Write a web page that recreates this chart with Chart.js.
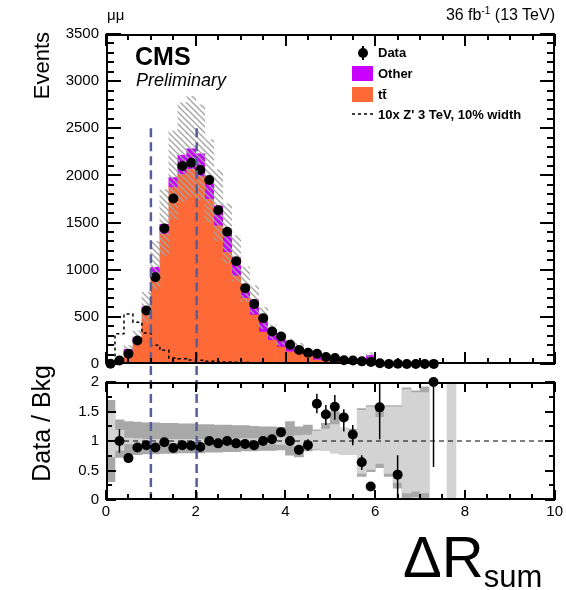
<!DOCTYPE html>
<html>
<head>
<meta charset="utf-8">
<title>Delta R sum, mumu</title>
<script src="https://cdn.jsdelivr.net/npm/chart.js@4.4.1/dist/chart.umd.min.js"></script>
<style>
  body { margin: 0; background: #fff; }
  #plot { position: relative; width: 566px; height: 590px; overflow: hidden;
          font-family: "Liberation Sans", Arial, Helvetica, sans-serif; color: #000; }
  #plot canvas { position: absolute; left: 0; }
  #topChart { top: 0; }
  #ratioChart { top: 366px; }
  .lbl { position: absolute; white-space: nowrap; line-height: 1; }
  .ytitle { position: absolute; width: 200px; text-align: right; transform-origin: 0 0;
            transform: rotate(-90deg); line-height: 1; white-space: nowrap; }
  .leg { position: absolute; left: 378px; font-size: 13px; font-weight: bold; line-height: 1; white-space: nowrap; }
  .box { position: absolute; left: 352px; width: 21px; height: 15px; }
</style>
</head>
<body>
<div id="plot">
  <canvas id="topChart" width="566" height="380"></canvas>
  <canvas id="ratioChart" width="566" height="224"></canvas>

  <div class="lbl" style="left:107px; top:7px; font-size:15px;">μμ</div>
  <div class="lbl" style="right:11px; top:6px; font-size:16px;">36 fb<sup style="font-size:10px; vertical-align:6px;">-1</sup> (13 TeV)</div>
  <div class="lbl" style="left:135px; top:44px; font-size:25px; font-weight:bold;">CMS</div>
  <div class="lbl" style="left:136px; top:71px; font-size:18px; font-style:italic;">Preliminary</div>

  <div class="ytitle" style="left:31px; top:232px; font-size:22px;">Events</div>
  <div class="ytitle" style="left:29px; top:565px; font-size:25px;">Data / Bkg</div>

  <!-- legend -->
  <div style="position:absolute; left:362px; top:46px; width:1.5px; height:14px; background:#000;"></div>
  <div style="position:absolute; left:358px; top:48px; width:10px; height:10px; border-radius:50%; background:#000;"></div>
  <div class="leg" style="top:46px;">Data</div>
  <div class="box" style="top:66px; background:#c900fb;"></div>
  <div class="leg" style="top:67px;">Other</div>
  <div class="box" style="top:87px; background:#fd6a37;"></div>
  <div class="leg" style="top:88px;">tt̄</div>
  <svg style="position:absolute; left:352px; top:110px;" width="21" height="8">
    <line x1="0" y1="4" x2="21" y2="4" stroke="#000" stroke-width="1.5" stroke-dasharray="3,3"/>
  </svg>
  <div class="leg" style="top:108px;">10x Z' 3 TeV, 10% width</div>

  <div class="lbl" style="left:403px; top:528px; font-size:58px;">ΔR<span style="font-size:31px; position:relative; top:10px;">sum</span></div>
</div>

<script>
// bins of 0.2 in delta R sum (centres)
const binCenters = [0.1, 0.3, 0.5, 0.7, 0.9, 1.1, 1.3, 1.5, 1.7, 1.9,
                    2.1, 2.3, 2.5, 2.7, 2.9, 3.1, 3.3, 3.5, 3.7, 3.9,
                    4.1, 4.3, 4.5, 4.7, 4.9, 5.1, 5.3, 5.5, 5.7, 5.9,
                    6.1, 6.3, 6.5, 6.7, 6.9, 7.1, 7.3, 7.5, 7.7, 7.9];

const ttbar = [0.5, 28, 105, 232, 550, 925, 1377, 1871, 2010, 2064,
               1987, 1747, 1465, 1184, 936, 697, 520, 338, 250, 180,
               130, 110, 80, 42, 32, 24, 17, 18, 22, 18,
               3, 2, 2.5, 1, 1, 0.6, 0.2, 0, 0, 0];

const other = [0, 10, 50, 50, 55, 100, 105, 106, 205, 219,
               243, 170, 212, 193, 195, 148, 165, 142, 85, 74,
               74, 64, 48, 25, 19, 16, 12, 16, 22, 73,
               2, 1, 2.1, 1, 0.5, 0.4, 0.1, 0, 0, 0];

// hatched uncertainty band on the total background
const mcUp = [1, 50, 195, 350, 760, 1300, 1850, 2470, 2770, 2840,
              2750, 2380, 2060, 1700, 1360, 1030, 830, 600, 415, 318,
              265, 220, 160, 85, 65, 50, 37, 42, 55, 120,
              7, 4, 6, 3, 2, 1.3, 0.4, null, null, null];
const mcDown = [0, 28, 118, 215, 445, 800, 1150, 1540, 1720, 1780,
                1740, 1500, 1310, 1070, 880, 660, 535, 375, 262, 200,
                160, 136, 100, 52, 40, 31, 23, 26, 34, 70,
                4, 2, 3, 1.5, 1, 0.7, 0.2, null, null, null];

const dataCounts = [3, 38, 109, 250, 567, 920, 1437, 1755, 2100, 2135,
                    2057, 1951, 1631, 1402, 1089, 803, 637, 486, 345, 292,
                    204, 148, 119, 109, 74, 63, 40, 38, 28, 21,
                    8, 0, 2, 0, 0, 0, 1, null, null, null];

// 10x Z' 3 TeV, 10% width
const signal10x = [0, 320, 530, 443, 330, 200, 145, 63, 56, 42,
                   40, 30, 25, 22, 18, 15, 12, 10, 8, 6,
                   5, 4, 3, 2, 2, 1, 1, 1, 0, 0,
                   0, 0, 0, 0, 0, 0, 0, 0, 0, 0];

// ratio panel
const ratio = [null, 1.0, 0.71, 0.89, 0.93, 0.89, 0.98, 0.88, 0.93, 0.92,
               0.90, 1.0, 0.96, 1.0, 0.96, 0.95, 0.93, 1.0, 1.03, 1.15,
               1.0, 0.85, 0.93, 1.63, 1.45, 1.58, 1.40, 1.11, 0.64, 0.23,
               1.57, null, 0.43, null, null, null, 2.0, null, null, null];
const ratioErrUp = [null, 0.2, 0.08, 0.05, 0.04, 0.03, 0.03, 0.03, 0.03, 0.03,
                    0.03, 0.03, 0.03, 0.03, 0.03, 0.04, 0.04, 0.05, 0.06, 0.07,
                    0.08, 0.08, 0.1, 0.17, 0.16, 0.2, 0.14, 0.16, 0.12, 0.05,
                    0.6, null, 0.33, null, null, null, 1, null, null, null];
const ratioErrDown = [null, 0.2, 0.08, 0.05, 0.04, 0.03, 0.03, 0.03, 0.03, 0.03,
                      0.03, 0.03, 0.03, 0.03, 0.03, 0.04, 0.04, 0.05, 0.06, 0.07,
                      0.08, 0.08, 0.1, 0.16, 0.18, 0.22, 0.24, 0.18, 0.13, 0.05,
                      0.54, null, 0.43, null, null, null, 1.44, null, null, null];

// stat+syst (dark) and stat (light) bands
const totLo = [0.31, 0.72, 0.77, 0.77, 0.78, 0.78, 0.79, 0.79, 0.80, 0.80,
               0.80, 0.81, 0.81, 0.82, 0.82, 0.83, 0.83, 0.84, 0.84, 0.85,
               0.76, 0.73, 0.83, 0.85, 0.84, 0.80, 0.77, 0.77, 0.40, 0.48,
               0.55, 0.40, 0.20, 0.0, 0.05, 0.0, null, null, null, null];
const totHi = [1.69, 1.36, 1.33, 1.32, 1.31, 1.31, 1.30, 1.30, 1.29, 1.29,
               1.28, 1.28, 1.27, 1.27, 1.26, 1.26, 1.25, 1.24, 1.24, 1.23,
               1.33, 1.24, 1.27, 1.19, 1.30, 1.50, 1.22, 1.20, 1.55, 1.60,
               1.58, 1.60, 1.60, 1.90, 1.85, 1.92, null, null, null, null];
const statLo = [0.73, 0.84, 0.95, 0.96, 0.97, 0.97, 0.97, 0.97, 0.97, 0.97,
                0.97, 0.97, 0.97, 0.97, 0.96, 0.96, 0.96, 0.95, 0.95, 0.94,
                0.93, 0.91, 0.90, 0.86, 0.84, 0.80, 0.77, 0.77, 0.45, 0.52,
                0.62, 0.45, 0.30, 0.12, 0.15, 0.12, null, null, 0, null];
const statHi = [1.50, 1.18, 1.05, 1.04, 1.03, 1.03, 1.03, 1.03, 1.03, 1.03,
                1.03, 1.03, 1.03, 1.03, 1.04, 1.04, 1.04, 1.05, 1.05, 1.06,
                1.07, 1.09, 1.10, 1.17, 1.20, 1.28, 1.22, 1.18, 1.52, 1.58,
                1.40, 1.58, 1.58, 1.87, 1.82, 1.82, null, null, 2, null];

const cutValues = [1.0, 2.02];
const cutTop = 2500;
const ratioRef = 1;

// axis tick values (inward ROOT style ticks)
const xTickVals = [0, 0.5, 1, 1.5, 2, 2.5, 3, 3.5, 4, 4.5, 5, 5.5, 6, 6.5, 7, 7.5, 8, 8.5, 9, 9.5, 10];
const xMajorVals = [0, 2, 4, 6, 8, 10];

Chart.defaults.font.family = '"Liberation Sans", Arial, Helvetica, sans-serif';
Chart.defaults.font.size = 15;
Chart.defaults.color = '#000';

const pts = (ys) => binCenters.map((x, i) => ({ x: x, y: ys[i] }));
const band = (lo, hi) => binCenters.map((x, i) => ({ x: x, y: lo[i] == null ? null : [lo[i], hi[i]] }));
const plainNum = (v) => String(v);

function makeHatch(canvas) {
  const s = 6;
  const c = document.createElement('canvas');
  c.width = s; c.height = s;
  const g = c.getContext('2d');
  g.strokeStyle = '#a3a3a3';
  g.lineWidth = 1.3;
  g.beginPath();
  g.moveTo(0, 0); g.lineTo(s, s);
  g.moveTo(-s / 2, s / 2); g.lineTo(s / 2, s * 1.5);
  g.moveTo(s / 2, -s / 2); g.lineTo(s * 1.5, s / 2);
  g.stroke();
  return canvas.getContext('2d').createPattern(c, 'repeat');
}

// frame with inward ticks, drawn with filled rectangles
function frameTicks(o) {
  return {
    id: 'frameTicks',
    afterDraw(chart) {
      const ctx = chart.ctx;
      const a = chart.chartArea;
      const xs = chart.scales.x;
      const ys = chart.scales.y;
      const L = Math.round(a.left), R = Math.round(a.right);
      const T = Math.round(a.top), B = Math.round(a.bottom);
      const w = 2;
      ctx.save();
      ctx.fillStyle = '#000';
      ctx.fillRect(L, T, R - L, w);
      ctx.fillRect(L, B - w, R - L, w);
      ctx.fillRect(L, T, w, B - T);
      ctx.fillRect(R - w, T, w, B - T);
      xTickVals.forEach(v => {
        const px = Math.round(xs.getPixelForValue(v)) - 1;
        const len = xMajorVals.includes(v) ? o.xMajor : o.xMinor;
        ctx.fillRect(px, B - len, w, len);
        ctx.fillRect(px, T, w, len);
      });
      o.yTickVals.forEach(v => {
        const py = Math.round(ys.getPixelForValue(v)) - 1;
        const len = o.yMajorVals.includes(v) ? o.yMajor : o.yMinor;
        ctx.fillRect(L, py, len, w);
        ctx.fillRect(R - len, py, len, w);
      });
      ctx.restore();
    }
  };
}

// vertical dashed selection lines
function cutLines(topValue) {
  return {
    id: 'cutLines',
    afterDatasetsDraw(chart) {
      const { ctx, chartArea: a, scales: { x, y } } = chart;
      ctx.save();
      ctx.strokeStyle = '#5a5e98';
      ctx.lineWidth = 2.5;
      ctx.setLineDash([9, 5]);
      ctx.beginPath();
      cutValues.forEach(v => {
        const px = x.getPixelForValue(v);
        const top = topValue == null ? 0 : y.getPixelForValue(topValue);
        ctx.moveTo(px, top); ctx.lineTo(px, a.bottom);
      });
      ctx.stroke();
      ctx.restore();
    }
  };
}

// error bars of the ratio points
const ratioErrors = {
  id: 'ratioErrors',
  afterDatasetsDraw(chart) {
    const { ctx, chartArea: a, scales: { x, y } } = chart;
    ctx.save();
    ctx.beginPath();
    ctx.rect(a.left, a.top, a.width, a.height);
    ctx.clip();
    ctx.strokeStyle = '#000';
    ctx.lineWidth = 1.5;
    ctx.beginPath();
    binCenters.forEach((c, i) => {
      if (ratio[i] == null) return;
      const px = x.getPixelForValue(c);
      ctx.moveTo(px, y.getPixelForValue(ratio[i] + ratioErrUp[i]));
      ctx.lineTo(px, y.getPixelForValue(ratio[i] - ratioErrDown[i]));
    });
    ctx.stroke();
    ctx.restore();
  }
};

const barCommon = { barPercentage: 1, categoryPercentage: 1, grouped: false, borderWidth: 0 };

const topYTicks = [], topYMajor = [];
for (let v = 0; v <= 3500; v += 100) { topYTicks.push(v); if (v % 500 === 0) topYMajor.push(v); }
const ratioYTicks = [0, 0.25, 0.5, 0.75, 1, 1.25, 1.5, 1.75, 2];
const ratioYMajor = [0, 0.5, 1, 1.5, 2];

const topCanvas = document.getElementById('topChart');
new Chart(topCanvas, {
  type: 'bar',
  data: {
    datasets: [
      { type: 'line', label: 'Data', data: pts(dataCounts), showLine: false,
        pointRadius: 5, pointBackgroundColor: '#000', pointBorderWidth: 0,
        stack: 'data', order: 0, clip: false },
      { type: 'line', label: 'signal', data: pts(signal10x), stepped: 'middle',
        borderColor: '#000', borderWidth: 1.5, borderDash: [3, 3], pointRadius: 0,
        fill: false, stack: 'sig', order: 1 },
      Object.assign({ label: 'unc', data: band(mcDown, mcUp), backgroundColor: makeHatch(topCanvas),
        stack: 'unc', order: 2 }, barCommon),
      Object.assign({ label: 'ttbar', data: pts(ttbar), backgroundColor: '#fd6a37',
        stack: 'bkg', order: 3 }, barCommon),
      Object.assign({ label: 'Other', data: pts(other), backgroundColor: '#c900fb',
        stack: 'bkg', order: 4 }, barCommon)
    ]
  },
  options: {
    responsive: false,
    animation: false,
    events: [],
    layout: { padding: { top: 34, right: 11, bottom: 15, left: 0 } },
    plugins: { legend: { display: false }, tooltip: { enabled: false } },
    scales: {
      x: { type: 'linear', min: 0, max: 10, offset: false, display: false },
      y: {
        stacked: true, min: 0, max: 3500,
        grid: { display: false, drawTicks: false },
        border: { display: false },
        ticks: { stepSize: 500, padding: 7, callback: plainNum },
        afterFit(scale) { scale.width = 106; }
      }
    }
  },
  plugins: [
    cutLines(cutTop),
    frameTicks({ xMajor: 12, xMinor: 6, yTickVals: topYTicks, yMajorVals: topYMajor, yMajor: 15, yMinor: 8 })
  ]
});

new Chart(document.getElementById('ratioChart'), {
  type: 'bar',
  data: {
    datasets: [
      { type: 'line', label: 'Data/Bkg', data: pts(ratio), showLine: false,
        pointRadius: 5, pointBackgroundColor: '#000', pointBorderWidth: 0,
        order: 0, clip: false },
      { type: 'line', label: 'ref', data: [{ x: 0, y: ratioRef }, { x: 10, y: ratioRef }],
        borderColor: '#000', borderWidth: 1, borderDash: [5, 4], pointRadius: 0, order: 1 },
      Object.assign({ label: 'stat', data: band(statLo, statHi), backgroundColor: '#d3d3d3',
        order: 2 }, barCommon),
      Object.assign({ label: 'total', data: band(totLo, totHi), backgroundColor: '#a8a8a8',
        order: 3 }, barCommon)
    ]
  },
  options: {
    responsive: false,
    animation: false,
    events: [],
    layout: { padding: { top: 16, right: 11, bottom: 68, left: 0 } },
    plugins: { legend: { display: false }, tooltip: { enabled: false } },
    scales: {
      x: {
        type: 'linear', min: 0, max: 10, offset: false,
        grid: { display: false, drawTicks: false },
        border: { display: false },
        ticks: { stepSize: 2, padding: 3, maxRotation: 0, callback: plainNum },
        afterFit(scale) { scale.height = 22; }
      },
      y: {
        min: 0, max: 2,
        grid: { display: false, drawTicks: false },
        border: { display: false },
        ticks: { stepSize: 0.5, padding: 7, callback: plainNum },
        afterFit(scale) { scale.width = 106; }
      }
    }
  },
  plugins: [
    ratioErrors,
    cutLines(null),
    frameTicks({ xMajor: 10, xMinor: 6, yTickVals: ratioYTicks, yMajorVals: ratioYMajor, yMajor: 10, yMinor: 6 })
  ]
});
</script>
</body>
</html>
